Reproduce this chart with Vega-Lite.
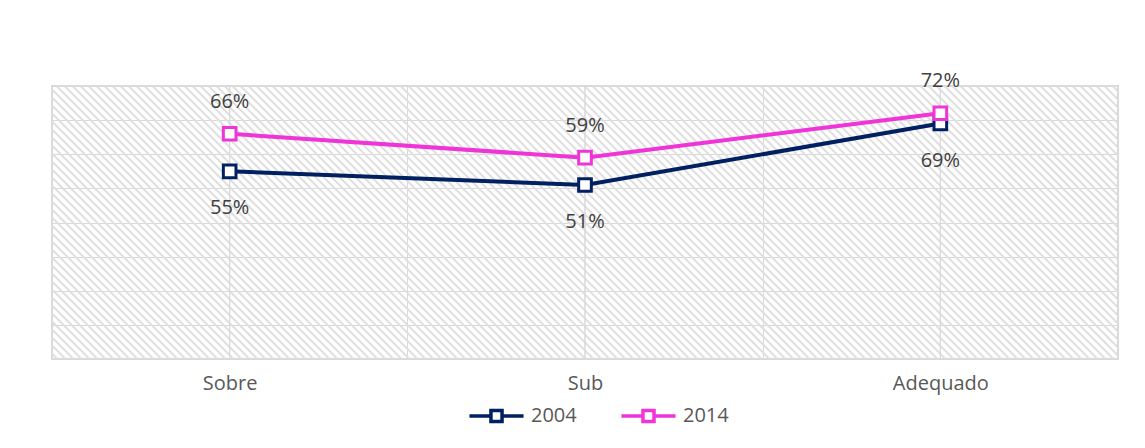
{
  "$schema": "https://vega.github.io/schema/vega-lite/v6.json",
  "width": 1066,
  "height": 273,
  "autosize": {"type": "none"},
  "padding": {"left": 52, "top": 86, "right": 27, "bottom": 89},
  "background": "white",
  "config": {"view": {"stroke": "#d9d9d9", "strokeWidth": 2}, "font": "Open Sans"},
  "data": {"values": [
    {"cat": "Sobre", "year": "2004", "value": 0.55},
    {"cat": "Sub", "year": "2004", "value": 0.51},
    {"cat": "Adequado", "year": "2004", "value": 0.69},
    {"cat": "Sobre", "year": "2014", "value": 0.66},
    {"cat": "Sub", "year": "2014", "value": 0.59},
    {"cat": "Adequado", "year": "2014", "value": 0.72}
  ]},
  "encoding": {
    "x": {
      "field": "cat", "type": "nominal",
      "scale": {"domain": ["Sobre", "Sub", "Adequado"], "paddingInner": 0, "paddingOuter": 0},
      "axis": {"title": null, "ticks": false, "domain": false, "labelAngle": 0, "labelFont": "Open Sans", "labelFontSize": 20, "labelColor": "#595959", "labelPadding": 14, "grid": true, "tickBand": "extent", "gridColor": "#d9d9d9", "gridWidth": 1}
    }
  },
  "layer": [
    {
      "data": {"values": [{"bg": 1}]},
      "mark": {"type": "point", "clip": true, "filled": false, "opacity": 1, "size": 4, "stroke": "#dfdfdf", "strokeWidth": 2,
        "shape": "M-812 -140l280 280m-272 -280l280 280m-272 -280l280 280m-272 -280l280 280m-272 -280l280 280m-272 -280l280 280m-272 -280l280 280m-272 -280l280 280m-272 -280l280 280m-272 -280l280 280m-272 -280l280 280m-272 -280l280 280m-272 -280l280 280m-272 -280l280 280m-272 -280l280 280m-272 -280l280 280m-272 -280l280 280m-272 -280l280 280m-272 -280l280 280m-272 -280l280 280m-272 -280l280 280m-272 -280l280 280m-272 -280l280 280m-272 -280l280 280m-272 -280l280 280m-272 -280l280 280m-272 -280l280 280m-272 -280l280 280m-272 -280l280 280m-272 -280l280 280m-272 -280l280 280m-272 -280l280 280m-272 -280l280 280m-272 -280l280 280m-272 -280l280 280m-272 -280l280 280m-272 -280l280 280m-272 -280l280 280m-272 -280l280 280m-272 -280l280 280m-272 -280l280 280m-272 -280l280 280m-272 -280l280 280m-272 -280l280 280m-272 -280l280 280m-272 -280l280 280m-272 -280l280 280m-272 -280l280 280m-272 -280l280 280m-272 -280l280 280m-272 -280l280 280m-272 -280l280 280m-272 -280l280 280m-272 -280l280 280m-272 -280l280 280m-272 -280l280 280m-272 -280l280 280m-272 -280l280 280m-272 -280l280 280m-272 -280l280 280m-272 -280l280 280m-272 -280l280 280m-272 -280l280 280m-272 -280l280 280m-272 -280l280 280m-272 -280l280 280m-272 -280l280 280m-272 -280l280 280m-272 -280l280 280m-272 -280l280 280m-272 -280l280 280m-272 -280l280 280m-272 -280l280 280m-272 -280l280 280m-272 -280l280 280m-272 -280l280 280m-272 -280l280 280m-272 -280l280 280m-272 -280l280 280m-272 -280l280 280m-272 -280l280 280m-272 -280l280 280m-272 -280l280 280m-272 -280l280 280m-272 -280l280 280m-272 -280l280 280m-272 -280l280 280m-272 -280l280 280m-272 -280l280 280m-272 -280l280 280m-272 -280l280 280m-272 -280l280 280m-272 -280l280 280m-272 -280l280 280m-272 -280l280 280m-272 -280l280 280m-272 -280l280 280m-272 -280l280 280m-272 -280l280 280m-272 -280l280 280m-272 -280l280 280m-272 -280l280 280m-272 -280l280 280m-272 -280l280 280m-272 -280l280 280m-272 -280l280 280m-272 -280l280 280m-272 -280l280 280m-272 -280l280 280m-272 -280l280 280m-272 -280l280 280m-272 -280l280 280m-272 -280l280 280m-272 -280l280 280m-272 -280l280 280m-272 -280l280 280m-272 -280l280 280m-272 -280l280 280m-272 -280l280 280m-272 -280l280 280m-272 -280l280 280m-272 -280l280 280m-272 -280l280 280m-272 -280l280 280m-272 -280l280 280m-272 -280l280 280m-272 -280l280 280m-272 -280l280 280m-272 -280l280 280m-272 -280l280 280m-272 -280l280 280m-272 -280l280 280m-272 -280l280 280m-272 -280l280 280m-272 -280l280 280m-272 -280l280 280m-272 -280l280 280m-272 -280l280 280m-272 -280l280 280m-272 -280l280 280m-272 -280l280 280m-272 -280l280 280m-272 -280l280 280m-272 -280l280 280m-272 -280l280 280m-272 -280l280 280m-272 -280l280 280m-272 -280l280 280m-272 -280l280 280m-272 -280l280 280m-272 -280l280 280m-272 -280l280 280m-272 -280l280 280m-272 -280l280 280m-272 -280l280 280m-272 -280l280 280m-272 -280l280 280m-272 -280l280 280m-272 -280l280 280m-272 -280l280 280m-272 -280l280 280m-272 -280l280 280m-272 -280l280 280m-272 -280l280 280m-272 -280l280 280m-272 -280l280 280m-272 -280l280 280m-272 -280l280 280m-272 -280l280 280m-272 -280l280 280m-272 -280l280 280m-272 -280l280 280m-272 -280l280 280m-272 -280l280 280m-272 -280l280 280m-272 -280l280 280m-272 -280l280 280m-272 -280l280 280m-272 -280l280 280m-272 -280l280 280m-272 -280l280 280m-272 -280l280 280m-272 -280l280 280m-272 -280l280 280m-272 -280l280 280m-272 -280l280 280m-272 -280l280 280m-272 -280l280 280m-272 -280l280 280m-272 -280l280 280m-272 -280l280 280m-272 -280l280 280m-272 -280l280 280m-272 -280l280 280m-272 -280l280 280m-272 -280l280 280m-272 -280l280 280m-272 -280l280 280m-272 -280l280 280m-272 -280l280 280m-272 -280l280 280m-272 -280l280 280m-272 -280l280 280m-272 -280l280 280m-272 -280l280 280m-272 -280l280 280m-272 -280l280 280m-272 -280l280 280m-272 -280l280 280m-272 -280l280 280m-272 -280l280 280m-272 -280l280 280m-272 -280l280 280m-272 -280l280 280"
      },
      "encoding": {
        "x": {"datum": "Sub", "type": "nominal"},
        "y": {"datum": 0.4, "type": "quantitative", "scale": {"domain": [0, 0.8], "nice": false, "zero": true},
          "axis": {"title": null, "labels": false, "ticks": false, "domain": false, "grid": true, "tickCount": 8, "labelOverlap": false, "gridColor": "#d9d9d9", "gridWidth": 1}}
      }
    },
    {
      "mark": {"type": "rule", "color": "#d9d9d9", "strokeWidth": 1},
      "encoding": {}
    },
    {
      "mark": {"type": "line", "strokeWidth": 4},
      "encoding": {
        "y": {"field": "value", "type": "quantitative", "scale": {"domain": [0, 0.8], "nice": false, "zero": true},
          "axis": {"title": null, "labels": false, "ticks": false, "domain": false, "grid": true, "tickCount": 8, "labelOverlap": false, "gridColor": "#d9d9d9", "gridWidth": 1}},
        "color": {"field": "year", "type": "nominal",
          "scale": {"domain": ["2004", "2014"], "range": ["#002060", "#F035D8"]},
          "legend": {"orient": "none", "legendX": 430, "legendY": 315, "direction": "horizontal", "title": null,
            "symbolType": "M-2.2 0H-0.45M0.45 0H2.2M-0.45 -0.45H0.45V0.45H-0.45Z", "symbolSize": 605, "symbolStrokeWidth": 3.5, "symbolFillColor": "white",
            "labelFont": "Open Sans", "labelFontSize": 20, "labelColor": "#595959", "labelOffset": 20, "columnPadding": 37}}
      }
    },
    {
      "mark": {"type": "point", "shape": "square", "filled": false, "fill": "white", "opacity": 1, "size": 160, "strokeWidth": 3},
      "encoding": {
        "y": {"field": "value", "type": "quantitative"},
        "color": {"field": "year", "type": "nominal"}
      }
    },
    {
      "transform": [{"filter": "datum.year == '2014'"}],
      "mark": {"type": "text", "dy": -32, "font": "Open Sans", "fontSize": 20, "color": "#404040"},
      "encoding": {
        "y": {"field": "value", "type": "quantitative"},
        "text": {"field": "value", "type": "quantitative", "format": ".0%"}
      }
    },
    {
      "transform": [{"filter": "datum.year == '2004'"}],
      "mark": {"type": "text", "dy": 37, "font": "Open Sans", "fontSize": 20, "color": "#404040"},
      "encoding": {
        "y": {"field": "value", "type": "quantitative"},
        "text": {"field": "value", "type": "quantitative", "format": ".0%"}
      }
    }
  ]
}
